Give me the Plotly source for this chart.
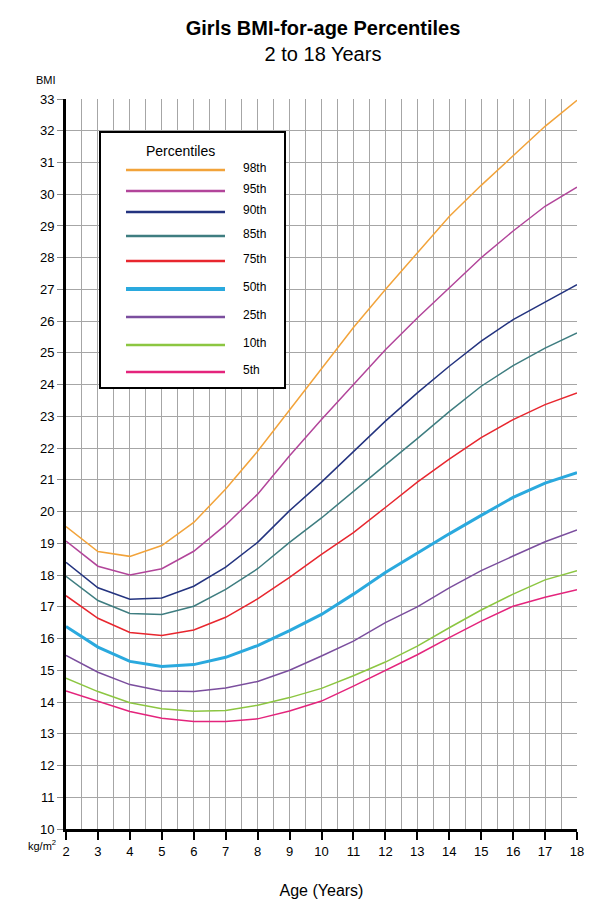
import plotly.graph_objects as go

# 나이 (년)
ages = list(range(2, 19))

# 백분위별 BMI 값
p98 = [19.53, 18.74, 18.59, 18.93, 19.66, 20.71, 21.9, 23.2, 24.5, 25.8, 27.0, 28.15, 29.3, 30.28, 31.2, 32.14, 32.96]
p95 = [19.07, 18.28, 18.0, 18.2, 18.75, 19.58, 20.55, 21.76, 22.9, 24.0, 25.1, 26.1, 27.06, 28.0, 28.84, 29.62, 30.22]
p90 = [18.4, 17.6, 17.24, 17.28, 17.65, 18.25, 19.03, 20.03, 20.93, 21.9, 22.85, 23.74, 24.58, 25.37, 26.05, 26.6, 27.15]
p85 = [17.96, 17.2, 16.79, 16.76, 17.02, 17.55, 18.2, 19.03, 19.8, 20.65, 21.47, 22.3, 23.15, 23.95, 24.6, 25.15, 25.63]
p75 = [17.35, 16.64, 16.19, 16.1, 16.27, 16.67, 17.25, 17.93, 18.65, 19.34, 20.13, 20.93, 21.65, 22.33, 22.9, 23.37, 23.74]
p50 = [16.38, 15.73, 15.28, 15.12, 15.18, 15.41, 15.78, 16.25, 16.76, 17.4, 18.08, 18.7, 19.3, 19.88, 20.45, 20.9, 21.23]
p25 = [15.47, 14.94, 14.55, 14.35, 14.33, 14.44, 14.65, 15.0, 15.45, 15.92, 16.5, 17.0, 17.6, 18.14, 18.6, 19.05, 19.42]
p10 = [14.75, 14.33, 13.98, 13.79, 13.71, 13.73, 13.9, 14.14, 14.43, 14.83, 15.26, 15.76, 16.34, 16.9, 17.4, 17.85, 18.14]
p5 = [14.35, 14.02, 13.7, 13.49, 13.39, 13.39, 13.47, 13.72, 14.03, 14.5, 14.99, 15.49, 16.03, 16.55, 17.02, 17.3, 17.54]

labels = ["98th", "95th", "90th", "85th", "75th", "50th", "25th", "10th", "5th"]
series = [p98, p95, p90, p85, p75, p50, p25, p10, p5]
colors = ["#f2a33a", "#b2459a", "#23337f", "#3e7d80", "#e8262e",
          "#2aa9de", "#7b4e9e", "#8cc641", "#e4247c"]
widths = [1.5, 1.5, 1.5, 1.5, 1.5, 3, 1.5, 1.5, 1.5]

FONT = "Liberation Sans, Arial, sans-serif"

fig = go.Figure()
for name, vals, c, w in zip(labels, series, colors, widths):
    fig.add_trace(go.Scatter(x=ages, y=vals, mode="lines", name=name,
                             line=dict(color=c, width=w), showlegend=False))

# 페이지 여백(8px) 보정
OFF = 8
W, H = 600 - OFF, 913 - OFF
# 플롯 영역 (페이지 픽셀 기준)
L, R, T, B = 66, 577, 99, 829

def px(x):
    return (x - L) / (R - L)

def py(y):
    return (B - y) / (B - T)

# 범례 상자 (직접 그리기)
shapes = [dict(type="rect", xref="paper", yref="paper",
               x0=px(100), x1=px(285), y0=py(132), y1=py(388),
               line=dict(color="black", width=2), fillcolor="white", layer="above")]
annotations = [dict(text="Percentiles", xref="paper", yref="paper",
                    x=px(180), y=py(151), xanchor="center", yanchor="middle",
                    showarrow=False,
                    font=dict(size=14, color="black", family=FONT))]
row_y = [170, 191, 212, 236, 261, 289, 317, 345, 372]
for name, c, w, ry in zip(labels, colors, widths, row_y):
    shapes.append(dict(type="line", xref="paper", yref="paper",
                       x0=px(126), x1=px(225), y0=py(ry), y1=py(ry),
                       line=dict(color=c, width=w + 1.2), layer="above"))
    annotations.append(dict(text=name, xref="paper", yref="paper",
                            x=px(241), y=py(ry - 2), xanchor="left", yanchor="middle",
                            showarrow=False,
                            font=dict(size=12, color="black", family=FONT)))

annotations.append(dict(text="BMI", xref="paper", yref="paper", x=px(46), y=py(80),
                        xanchor="center", yanchor="middle", showarrow=False,
                        font=dict(size=11, color="black", family=FONT)))
annotations.append(dict(text="kg/m<sup>2</sup>", xref="paper", yref="paper",
                        x=px(58), y=py(845), xanchor="right", yanchor="middle",
                        showarrow=False,
                        font=dict(size=11, color="black", family=FONT)))

fig.update_layout(
    width=W, height=H,
    margin=dict(l=L - OFF, r=600 - R, t=T - OFF, b=913 - B),
    paper_bgcolor="white", plot_bgcolor="white",
    font=dict(family=FONT, color="black"),
    title=dict(text="<b>Girls BMI-for-age Percentiles</b><br>2 to 18 Years",
               x=px(323), xref="paper", xanchor="center",
               y=1 - (35 - OFF) / H, yanchor="middle",
               font=dict(size=20, color="black", family=FONT)),
    shapes=shapes,
    annotations=annotations,
)

fig.update_xaxes(range=[2, 18], dtick=1, tick0=2,
                 showgrid=True, gridcolor="#a6a6a6", gridwidth=1,
                 minor=dict(dtick=0.5, showgrid=True, gridcolor="#a6a6a6", gridwidth=1),
                 showline=True, linecolor="black", linewidth=3,
                 ticks="outside", ticklen=8, tickwidth=2, tickcolor="black",
                 tickfont=dict(size=13, color="black"),
                 zeroline=False,
                 title=dict(text="Age (Years)", standoff=28,
                            font=dict(size=16, color="black")))
fig.update_yaxes(range=[10, 33], dtick=1, tick0=10,
                 showgrid=True, gridcolor="#a6a6a6", gridwidth=1,
                 showline=True, linecolor="black", linewidth=3,
                 ticks="outside", ticklen=6, tickwidth=1, tickcolor="#888888",
                 tickfont=dict(size=13, color="black"),
                 zeroline=False)

fig.write_html("out.html")
